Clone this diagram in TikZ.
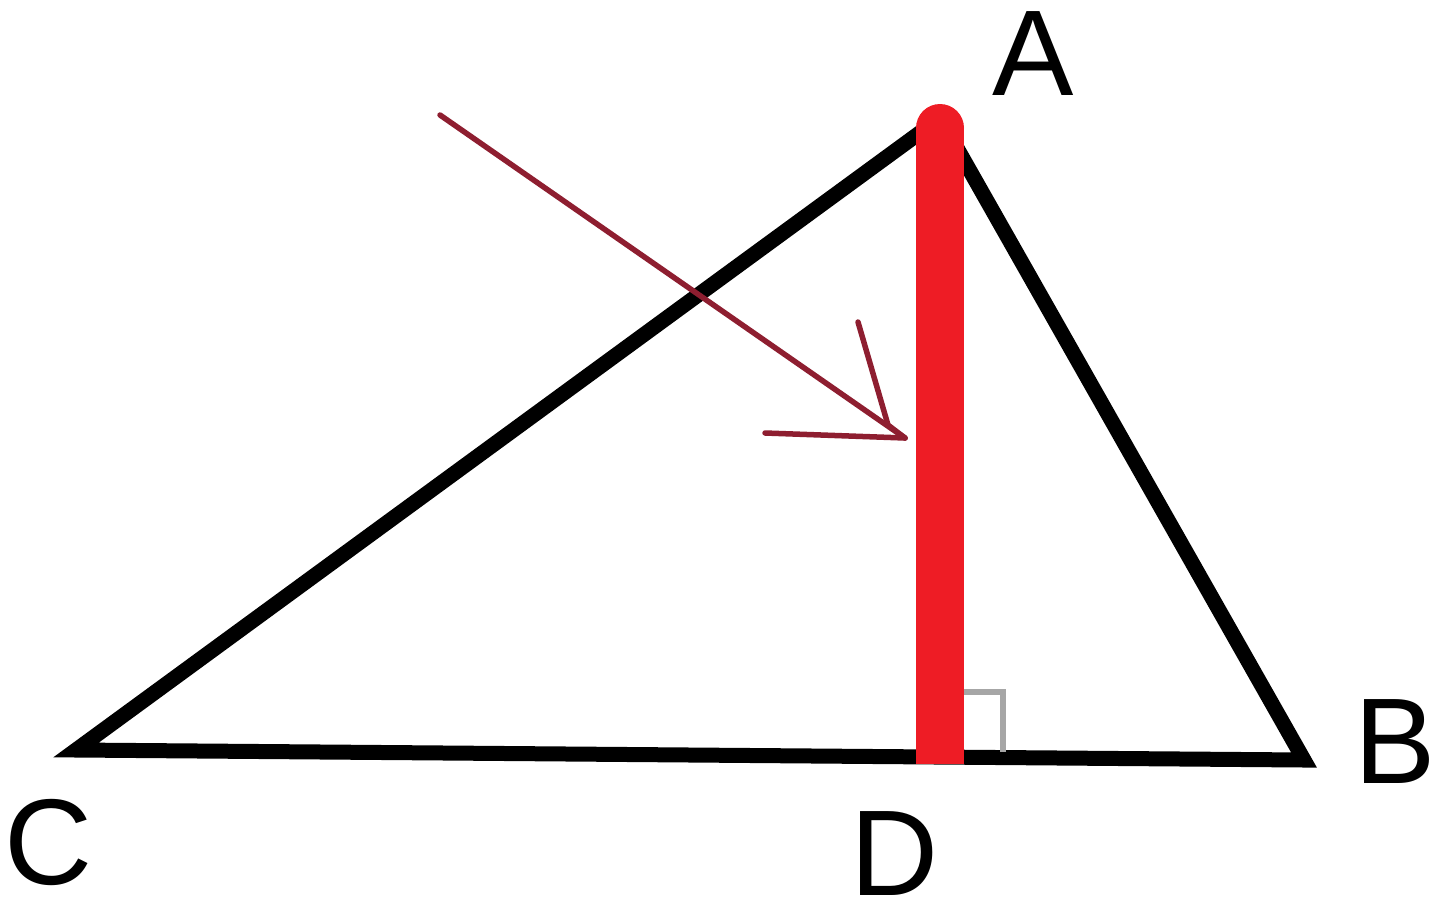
\documentclass[tikz,border=0pt]{standalone}
\usepackage{fontspec}
\setmainfont{Liberation Sans}
\begin{document}
\begin{tikzpicture}[x=1pt,y=-1pt,
  side/.style={line width=15pt, black, line join=miter},
  heightline/.style={line width=48pt, color=redA},
  ray/.style={line width=5.5pt, color=rayred, line cap=round, line join=round},
  rightmark/.style={line width=6pt, color=gray!70},
  lbl/.style={font=\fontsize{122}{140}\selectfont, inner sep=0pt}]
\definecolor{redA}{HTML}{EE1C25}
\definecolor{rayred}{HTML}{8E1E30}
\useasboundingbox (0,0) rectangle (1440,911);
\coordinate (C) at (76,750);
\coordinate (A) at (940,118);
\coordinate (B) at (1304,760);
\coordinate (D) at (940,764);
\coordinate (Atop) at (940,128);
\coordinate (R1) at (440,115);
\coordinate (Tip) at (905,438);
\coordinate (Barb) at (858,322);
\coordinate (BarbK) at (888,425);
\coordinate (H1) at (765,433);
\coordinate (M1) at (962,692);
\coordinate (M2) at (1003,692);
\coordinate (M3) at (1003,752);
\draw[side] (C) -- (A) -- (B) -- cycle;
\draw[rightmark] (M1) -- (M2) -- (M3);
\draw[heightline] (Atop) -- (D);
\fill[redA] (Atop) circle[radius=24pt];
\draw[ray] (R1) -- (Tip);
\draw[ray] (Barb) -- (BarbK) -- (Tip);
\draw[ray] (H1) -- (Tip);
\node[lbl] (la) at (1033,54) {A};
\node[lbl] (lb) at (1395,742) {B};
\node[lbl] (lc) at (49,842) {C};
\node[lbl] (ld) at (895,854) {D};
\end{tikzpicture}
\end{document}
